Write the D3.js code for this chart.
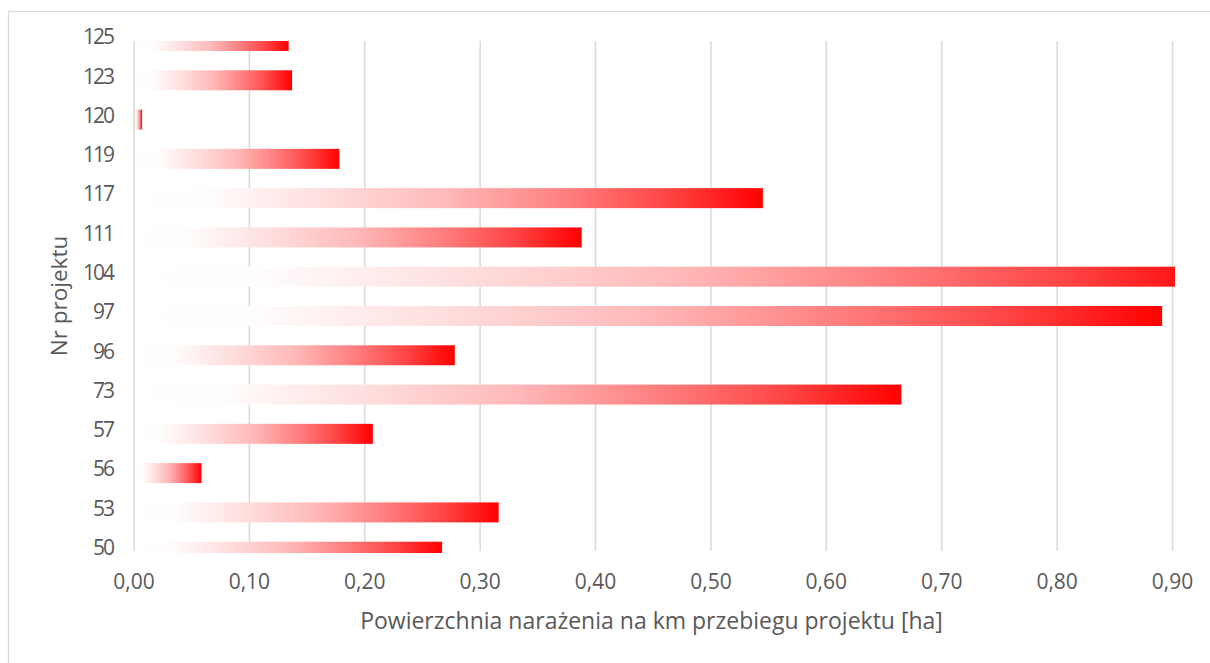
<!DOCTYPE html>
<html>
<head>
<meta charset="utf-8">
<script src="https://cdn.jsdelivr.net/npm/d3@7"></script>
<style>
  html, body { margin: 0; padding: 0; background: #ffffff; }
  svg { display: block; }
  text { font-family: "Open Sans", "Noto Sans", sans-serif; fill: #595959; }
</style>
</head>
<body>
<svg id="chart" width="1210" height="663"></svg>
<script>
// Project numbers, listed top to bottom
const projects = ["125", "123", "120", "119", "117", "111", "104", "97", "96", "73", "57", "56", "53", "50"];
// Exposure area per km of project route [ha]
const areaPerKm = [0.134, 0.137, 0.007, 0.178, 0.545, 0.388, 0.95, 0.891, 0.278, 0.665, 0.207, 0.0585, 0.316, 0.267];
// Value axis ticks
const xTicks = [0, 0.1, 0.2, 0.3, 0.4, 0.5, 0.6, 0.7, 0.8, 0.9];

const xTitle = "Powierzchnia narażenia na km przebiegu projektu [ha]";
const yTitle = "Nr projektu";

const svg = d3.select("#chart");
const W = 1210, H = 663;

// outer chart frame
svg.append("rect")
  .attr("x", 8.5).attr("y", 11.5)
  .attr("width", W).attr("height", H)
  .attr("fill", "#ffffff")
  .attr("stroke", "#d9d9d9").attr("stroke-width", 1.3);

const plot = { left: 134, right: 1175, top: 41, bottom: 553 };

const x = d3.scaleLinear().domain([0, 0.9]).range([134, 1172.5]);
const y = d3.scalePoint().domain(projects).range([41, 551.7]);
const barH = 20;

// vertical gridlines
svg.append("g").selectAll("line")
  .data(xTicks)
  .join("line")
  .attr("x1", d => x(d)).attr("x2", d => x(d))
  .attr("y1", plot.top).attr("y2", 551)
  .attr("stroke", "#d9d9d9").attr("stroke-width", 1.5);

const defs = svg.append("defs");
defs.append("clipPath").attr("id", "plotClip")
  .append("rect")
  .attr("x", plot.left).attr("y", plot.top)
  .attr("width", plot.right - plot.left)
  .attr("height", plot.bottom - plot.top);

// white-to-red fill stretched over each bar
const grad = defs.append("linearGradient")
  .attr("id", "barFill")
  .attr("x1", 0).attr("y1", 0).attr("x2", 1).attr("y2", 0);
[[0, "#ffffff"], [0.12, "#fffcfc"], [0.3, "#ffdede"], [0.5, "#ffb8b8"],
 [0.7, "#ff7a7a"], [0.85, "#ff4444"], [1, "#ff0000"]]
  .forEach(([o, c]) => grad.append("stop").attr("offset", o).attr("stop-color", c));

svg.append("g").attr("clip-path", "url(#plotClip)")
  .selectAll("rect")
  .data(projects.map((p, i) => ({ p, v: areaPerKm[i] })))
  .join("rect")
  .attr("x", x(0) + 1)
  .attr("y", d => y(d.p) - barH / 2)
  .attr("width", d => x(d.v) - x(0) - 1)
  .attr("height", barH)
  .attr("fill", "url(#barFill)");

// category labels
svg.append("g").selectAll("text")
  .data(projects)
  .join("text")
  .attr("x", 113)
  .attr("y", d => y(d) - 4)
  .attr("dy", "0.35em")
  .attr("text-anchor", "end")
  .attr("font-size", 21)
  .attr("letter-spacing", -2)
  .text(d => d);

// value tick labels
const fmt = d => d.toFixed(2).replace(".", ",");
svg.append("g").selectAll("text")
  .data(xTicks)
  .join("text")
  .attr("x", d => x(d))
  .attr("y", 589)
  .attr("text-anchor", "middle")
  .attr("font-size", 21)
  .text(fmt);

// axis titles
svg.append("text")
  .attr("x", 651.5).attr("y", 629)
  .attr("text-anchor", "middle")
  .attr("font-size", 23)
  .text(xTitle);

svg.append("text")
  .attr("transform", "translate(67,296) rotate(-90)")
  .attr("text-anchor", "middle")
  .attr("font-size", 22.5)
  .text(yTitle);
</script>
</body>
</html>
